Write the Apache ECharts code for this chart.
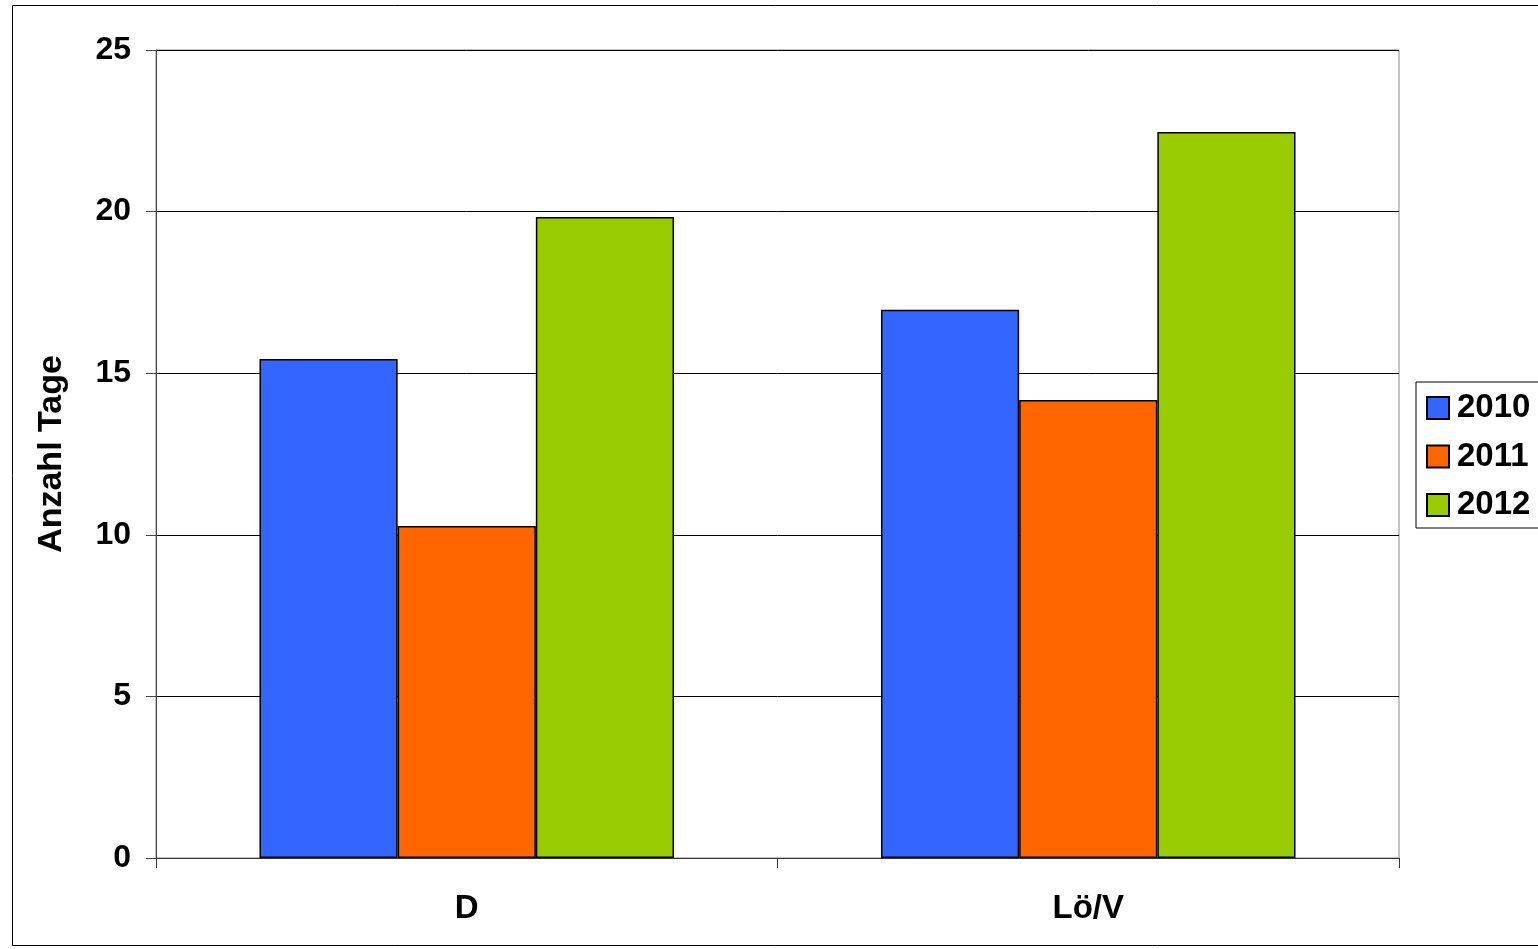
<!DOCTYPE html>
<html>
<head>
<meta charset="utf-8">
<script src="https://cdn.jsdelivr.net/npm/echarts@6/dist/echarts.min.js"></script>
<style>html,body{margin:0;padding:0;background:#fff}#c{width:1538px;height:949px}</style>
</head>
<body>
<div id="c"></div>
<script>
const categories = ['D', 'Lö/V'];
const seriesNames = ['2010', '2011', '2012'];
const values2010 = [15.44, 16.96];
const values2011 = [10.27, 14.17];
const values2012 = [19.83, 22.46];
const colors = ['#3366FF', '#FF6600', '#99CC00'];
const yTitle = 'Anzahl Tage';

const font = 'Liberation Sans, Arial, sans-serif';
const chart = echarts.init(document.getElementById('c'), null, {renderer: 'canvas'});
const data = [values2010, values2011, values2012];
chart.setOption({
  animation: false,
  backgroundColor: '#fff',
  graphic: [{
    type: 'rect', z: -10, silent: true,
    shape: {x: 12.5, y: 5.5, width: 1600, height: 940},
    style: {fill: 'none', stroke: '#000', lineWidth: 1}
  }],
  grid: {left: 156, right: 139, top: 50, bottom: 91, show: true, borderColor: '#888', borderWidth: 1},
  legend: {
    orient: 'vertical', left: 1416, top: 382,
    padding: [9.5, 30, 6.5, 10],
    itemWidth: 22, itemHeight: 22, itemGap: 15.5,
    borderColor: '#000', borderWidth: 1,
    icon: 'rect',
    textStyle: {fontFamily: font, fontWeight: 'bold', fontSize: 33, lineHeight: 33, color: '#000', padding: [0,0,0,3]},
    data: seriesNames
  },
  xAxis: {
    type: 'category', data: categories,
    axisLine: {lineStyle: {color: '#333', width: 1}},
    axisTick: {show: true, length: 10, lineStyle: {color: '#333'}},
    axisLabel: {fontFamily: font, fontWeight: 'bold', fontSize: 33, color: '#000', margin: 34}
  },
  yAxis: {
    type: 'value', min: 0, max: 25, interval: 5,
    name: yTitle, nameLocation: 'middle', nameGap: 87,
    nameTextStyle: {fontFamily: font, fontWeight: 'bold', fontSize: 34, color: '#000'},
    axisLine: {show: true, lineStyle: {color: '#444', width: 1}},
    axisTick: {show: true, length: 10, lineStyle: {color: '#444'}},
    axisLabel: {fontFamily: font, fontWeight: 'bold', fontSize: 32, color: '#000', margin: 25},
    splitLine: {lineStyle: {color: '#000', width: 1}}
  },
  series: seriesNames.map((n, i) => ({
    name: n, type: 'bar', data: data[i],
    barGap: '0%', barCategoryGap: '33.3%',
    itemStyle: {color: colors[i], borderColor: '#000', borderWidth: 1.5}
  }))
});
</script>
</body>
</html>
